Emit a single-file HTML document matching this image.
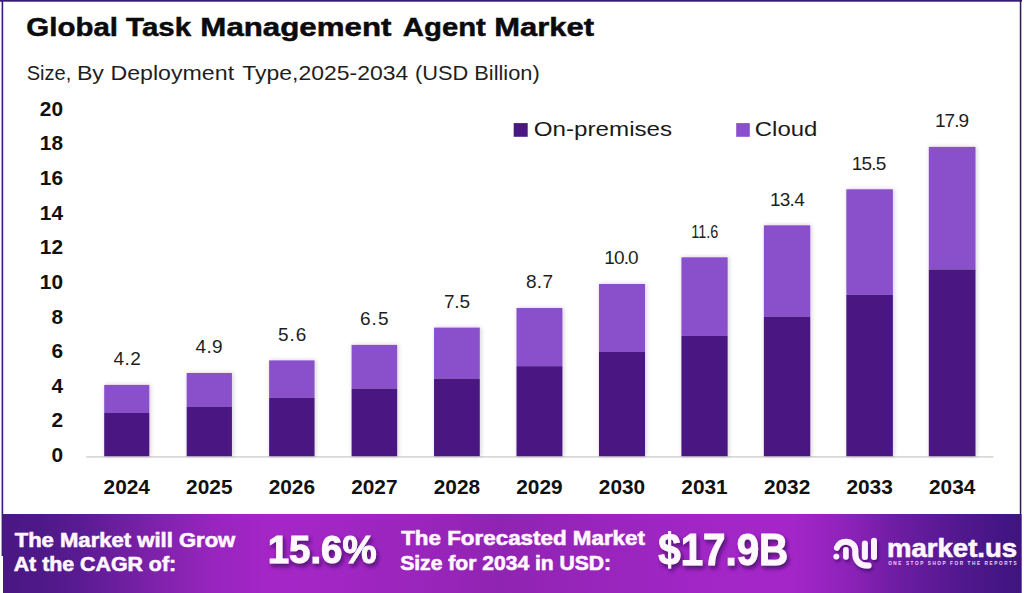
<!DOCTYPE html>
<html><head><meta charset="utf-8">
<style>
html,body{margin:0;padding:0;background:#fff;}
body{width:1024px;height:593px;overflow:hidden;position:relative;}
svg{position:absolute;left:0;top:0;}
</style></head>
<body>
<svg width="1024" height="593" viewBox="0 0 1024 593">
<defs>
<linearGradient id="band" gradientUnits="userSpaceOnUse" x1="3" y1="0" x2="1021" y2="0">
<stop offset="0.0000" stop-color="#4a1784"/>
<stop offset="0.0363" stop-color="#4e1888"/>
<stop offset="0.0756" stop-color="#5a1b92"/>
<stop offset="0.1542" stop-color="#8022ac"/>
<stop offset="0.2132" stop-color="#9a25c0"/>
<stop offset="0.2623" stop-color="#a426c6"/>
<stop offset="0.3212" stop-color="#a226c4"/>
<stop offset="0.4096" stop-color="#9a25bc"/>
<stop offset="0.4882" stop-color="#9024b2"/>
<stop offset="0.5864" stop-color="#9825bc"/>
<stop offset="0.6847" stop-color="#a226c6"/>
<stop offset="0.7731" stop-color="#a526c8"/>
<stop offset="0.8320" stop-color="#8c22b8"/>
<stop offset="0.8811" stop-color="#6c1ca2"/>
<stop offset="0.9401" stop-color="#52188e"/>
<stop offset="1.0000" stop-color="#3e1480"/>
</linearGradient>
<filter id="sh" x="-20%" y="-20%" width="140%" height="160%">
<feDropShadow dx="2" dy="3" stdDeviation="2" flood-color="#3a0860" flood-opacity="0.85"/>
</filter>
<filter id="bsh" x="-20%" y="-5%" width="140%" height="110%">
<feDropShadow dx="1" dy="0" stdDeviation="2" flood-color="#302040" flood-opacity="0.22"/>
</filter>
<filter id="sh2" x="-20%" y="-20%" width="140%" height="160%">
<feDropShadow dx="1.5" dy="2.5" stdDeviation="1.8" flood-color="#2a0650" flood-opacity="0.6"/>
</filter>
</defs>
<rect x="0" y="0" width="1022" height="1.7" fill="#3a1a78"/>
<rect x="1.6" y="0" width="1.6" height="556" fill="#3a1a78"/>
<rect x="1019.8" y="0" width="1.5" height="514" fill="#2a1a50"/>
<rect x="513.7" y="123.1" width="14" height="13.7" fill="#4a1882"/>
<rect x="736.2" y="123.1" width="13.6" height="13.7" fill="#8a4fca"/>
<rect x="86.2" y="456.2" width="907.3" height="1.4" fill="#cfcfcf"/>
<g filter="url(#bsh)"><rect x="104.20" y="384.9" width="45.10" height="28.1" fill="#8a4fca"/>
<rect x="104.20" y="413.0" width="45.10" height="43.2" fill="#4a1882"/>
<rect x="186.66" y="373.0" width="45.26" height="33.6" fill="#8a4fca"/>
<rect x="186.66" y="406.6" width="45.26" height="49.6" fill="#4a1882"/>
<rect x="269.12" y="360.4" width="45.42" height="37.3" fill="#8a4fca"/>
<rect x="269.12" y="397.7" width="45.42" height="58.5" fill="#4a1882"/>
<rect x="351.58" y="344.9" width="45.58" height="43.7" fill="#8a4fca"/>
<rect x="351.58" y="388.6" width="45.58" height="67.6" fill="#4a1882"/>
<rect x="434.04" y="327.6" width="45.74" height="51.0" fill="#8a4fca"/>
<rect x="434.04" y="378.6" width="45.74" height="77.6" fill="#4a1882"/>
<rect x="516.50" y="308.0" width="45.90" height="58.2" fill="#8a4fca"/>
<rect x="516.50" y="366.2" width="45.90" height="90.0" fill="#4a1882"/>
<rect x="598.96" y="284.0" width="46.06" height="68.0" fill="#8a4fca"/>
<rect x="598.96" y="352.0" width="46.06" height="104.2" fill="#4a1882"/>
<rect x="681.42" y="257.3" width="46.22" height="78.6" fill="#8a4fca"/>
<rect x="681.42" y="335.9" width="46.22" height="120.3" fill="#4a1882"/>
<rect x="763.88" y="225.3" width="46.38" height="91.3" fill="#8a4fca"/>
<rect x="763.88" y="316.6" width="46.38" height="139.6" fill="#4a1882"/>
<rect x="846.34" y="189.3" width="46.54" height="105.4" fill="#8a4fca"/>
<rect x="846.34" y="294.7" width="46.54" height="161.5" fill="#4a1882"/>
<rect x="928.80" y="146.9" width="46.70" height="122.6" fill="#8a4fca"/>
<rect x="928.80" y="269.5" width="46.70" height="186.7" fill="#4a1882"/></g>
<rect x="3" y="514" width="1018.7" height="79" fill="url(#band)"/>
<g filter="url(#sh2)" fill="none" stroke="#fdf2ff" stroke-linecap="round">
<path d="M836.9,547.8 C838.3,544 841.6,541.7 846,541.7 C851.4,541.7 855.3,545.6 855.3,550.6 L855.3,554.5 A11,11 0 0 0 866.3,565.5 L868.6,565.5" stroke-width="6"/>
<line x1="845.9" y1="549.9" x2="845.9" y2="557" stroke-width="5.6"/>
<line x1="864.9" y1="543.4" x2="864.9" y2="557" stroke-width="6"/>
<line x1="874" y1="540.7" x2="874" y2="557" stroke-width="6"/>
<circle cx="836.3" cy="556.6" r="2.95" fill="#fdf2ff" stroke="none"/>
</g>
<text id="ta" x="26.38" y="36.30" font-family='"Liberation Sans",sans-serif' font-weight="700" font-size="26.30" fill="#0b0b0b" text-anchor="start" textLength="164.65" lengthAdjust="spacingAndGlyphs" stroke="#0b0b0b" stroke-width="0.5" xml:space="preserve">Global Task</text>
<text id="tb" x="200.37" y="36.30" font-family='"Liberation Sans",sans-serif' font-weight="700" font-size="26.30" fill="#0b0b0b" text-anchor="start" textLength="191.08" lengthAdjust="spacingAndGlyphs" stroke="#0b0b0b" stroke-width="0.5" xml:space="preserve">Management</text>
<text id="tc" x="402.87" y="36.30" font-family='"Liberation Sans",sans-serif' font-weight="700" font-size="26.30" fill="#0b0b0b" text-anchor="start" textLength="82.94" lengthAdjust="spacingAndGlyphs" stroke="#0b0b0b" stroke-width="0.5" xml:space="preserve">Agent</text>
<text id="td" x="494.32" y="36.30" font-family='"Liberation Sans",sans-serif' font-weight="700" font-size="26.30" fill="#0b0b0b" text-anchor="start" textLength="99.74" lengthAdjust="spacingAndGlyphs" stroke="#0b0b0b" stroke-width="0.5" xml:space="preserve">Market</text>
<text id="sa" x="26.76" y="80.30" font-family='"Liberation Sans",sans-serif' font-weight="400" font-size="20.20" fill="#1e1e1e" text-anchor="start" textLength="44.57" lengthAdjust="spacingAndGlyphs" xml:space="preserve">Size,</text>
<text id="sb" x="76.92" y="80.30" font-family='"Liberation Sans",sans-serif' font-weight="400" font-size="20.20" fill="#1e1e1e" text-anchor="start" textLength="157.17" lengthAdjust="spacingAndGlyphs" xml:space="preserve">By Deployment</text>
<text id="sc" x="242.37" y="80.30" font-family='"Liberation Sans",sans-serif' font-weight="400" font-size="20.20" fill="#1e1e1e" text-anchor="start" textLength="165.82" lengthAdjust="spacingAndGlyphs" xml:space="preserve">Type,2025-2034</text>
<text id="sd" x="414.90" y="80.30" font-family='"Liberation Sans",sans-serif' font-weight="400" font-size="20.20" fill="#1e1e1e" text-anchor="start" textLength="124.85" lengthAdjust="spacingAndGlyphs" xml:space="preserve">(USD Billion)</text>
<text id="leg1" x="533.74" y="135.80" font-family='"Liberation Sans",sans-serif' font-weight="400" font-size="21.00" fill="#1a1a1a" text-anchor="start" textLength="138.43" lengthAdjust="spacingAndGlyphs" xml:space="preserve">On-premises</text>
<text id="leg2" x="754.82" y="135.80" font-family='"Liberation Sans",sans-serif' font-weight="400" font-size="21.00" fill="#1a1a1a" text-anchor="start" textLength="62.53" lengthAdjust="spacingAndGlyphs" xml:space="preserve">Cloud</text>
<text id="v2024" x="127.23" y="365.30" font-family='"Liberation Sans",sans-serif' font-weight="400" font-size="19.00" fill="#1e1e1e" text-anchor="middle" textLength="27.36" lengthAdjust="spacing" xml:space="preserve">4.2</text>
<text id="x2024" transform="matrix(1.08,0,0,1,-10.14,0)" x="126.75" y="493.90" font-family='"Liberation Sans",sans-serif' font-weight="700" font-size="19.30" fill="#111" text-anchor="middle" xml:space="preserve">2024</text>
<text id="v2025" x="209.05" y="353.40" font-family='"Liberation Sans",sans-serif' font-weight="400" font-size="19.00" fill="#1e1e1e" text-anchor="middle" textLength="26.94" lengthAdjust="spacing" xml:space="preserve">4.9</text>
<text id="x2025" transform="matrix(1.08,0,0,1,-16.74,0)" x="209.29" y="493.90" font-family='"Liberation Sans",sans-serif' font-weight="700" font-size="19.30" fill="#111" text-anchor="middle" xml:space="preserve">2025</text>
<text id="v2026" x="292.13" y="340.80" font-family='"Liberation Sans",sans-serif' font-weight="400" font-size="19.00" fill="#1e1e1e" text-anchor="middle" textLength="28.49" lengthAdjust="spacing" xml:space="preserve">5.6</text>
<text id="x2026" transform="matrix(1.08,0,0,1,-23.35,0)" x="291.83" y="493.90" font-family='"Liberation Sans",sans-serif' font-weight="700" font-size="19.30" fill="#111" text-anchor="middle" xml:space="preserve">2026</text>
<text id="v2027" x="374.26" y="325.30" font-family='"Liberation Sans",sans-serif' font-weight="400" font-size="19.00" fill="#1e1e1e" text-anchor="middle" textLength="28.43" lengthAdjust="spacing" xml:space="preserve">6.5</text>
<text id="x2027" transform="matrix(1.08,0,0,1,-29.95,0)" x="374.37" y="493.90" font-family='"Liberation Sans",sans-serif' font-weight="700" font-size="19.30" fill="#111" text-anchor="middle" xml:space="preserve">2027</text>
<text id="v2028" x="456.97" y="308.00" font-family='"Liberation Sans",sans-serif' font-weight="400" font-size="19.00" fill="#1e1e1e" text-anchor="middle" textLength="26.16" lengthAdjust="spacing" xml:space="preserve">7.5</text>
<text id="x2028" transform="matrix(1.08,0,0,1,-36.55,0)" x="456.91" y="493.90" font-family='"Liberation Sans",sans-serif' font-weight="700" font-size="19.30" fill="#111" text-anchor="middle" xml:space="preserve">2028</text>
<text id="v2029" x="539.43" y="288.40" font-family='"Liberation Sans",sans-serif' font-weight="400" font-size="19.00" fill="#1e1e1e" text-anchor="middle" textLength="27.07" lengthAdjust="spacing" xml:space="preserve">8.7</text>
<text id="x2029" transform="matrix(1.08,0,0,1,-43.16,0)" x="539.45" y="493.90" font-family='"Liberation Sans",sans-serif' font-weight="700" font-size="19.30" fill="#111" text-anchor="middle" xml:space="preserve">2029</text>
<text id="v2030" x="621.45" y="264.40" font-family='"Liberation Sans",sans-serif' font-weight="400" font-size="19.00" fill="#1e1e1e" text-anchor="middle" textLength="34.22" lengthAdjust="spacing" xml:space="preserve">10.0</text>
<text id="x2030" transform="matrix(1.08,0,0,1,-49.76,0)" x="621.99" y="493.90" font-family='"Liberation Sans",sans-serif' font-weight="700" font-size="19.30" fill="#111" text-anchor="middle" xml:space="preserve">2030</text>
<text id="v2031" x="704.71" y="237.70" font-family='"Liberation Sans",sans-serif' font-weight="400" font-size="19.00" fill="#1e1e1e" text-anchor="middle" textLength="27.08" lengthAdjust="spacingAndGlyphs" xml:space="preserve">11.6</text>
<text id="x2031" transform="matrix(1.08,0,0,1,-56.36,0)" x="704.53" y="493.90" font-family='"Liberation Sans",sans-serif' font-weight="700" font-size="19.30" fill="#111" text-anchor="middle" xml:space="preserve">2031</text>
<text id="v2032" x="787.31" y="205.70" font-family='"Liberation Sans",sans-serif' font-weight="400" font-size="19.00" fill="#1e1e1e" text-anchor="middle" textLength="34.79" lengthAdjust="spacing" xml:space="preserve">13.4</text>
<text id="x2032" transform="matrix(1.08,0,0,1,-62.97,0)" x="787.07" y="493.90" font-family='"Liberation Sans",sans-serif' font-weight="700" font-size="19.30" fill="#111" text-anchor="middle" xml:space="preserve">2032</text>
<text id="v2033" x="869.01" y="169.70" font-family='"Liberation Sans",sans-serif' font-weight="400" font-size="19.00" fill="#1e1e1e" text-anchor="middle" textLength="34.73" lengthAdjust="spacing" xml:space="preserve">15.5</text>
<text id="x2033" transform="matrix(1.08,0,0,1,-69.57,0)" x="869.61" y="493.90" font-family='"Liberation Sans",sans-serif' font-weight="700" font-size="19.30" fill="#111" text-anchor="middle" xml:space="preserve">2033</text>
<text id="v2034" x="952.07" y="127.30" font-family='"Liberation Sans",sans-serif' font-weight="400" font-size="19.00" fill="#1e1e1e" text-anchor="middle" textLength="34.21" lengthAdjust="spacing" xml:space="preserve">17.9</text>
<text id="x2034" transform="matrix(1.08,0,0,1,-76.17,0)" x="952.15" y="493.90" font-family='"Liberation Sans",sans-serif' font-weight="700" font-size="19.30" fill="#111" text-anchor="middle" xml:space="preserve">2034</text>
<text id="y0" transform="matrix(1.07,0,0,1,-4.41,0)" x="63.00" y="462.00" font-family='"Liberation Sans",sans-serif' font-weight="700" font-size="19.50" fill="#111" text-anchor="end" xml:space="preserve">0</text>
<text id="y2" transform="matrix(1.07,0,0,1,-4.41,0)" x="63.00" y="427.38" font-family='"Liberation Sans",sans-serif' font-weight="700" font-size="19.50" fill="#111" text-anchor="end" xml:space="preserve">2</text>
<text id="y4" transform="matrix(1.07,0,0,1,-4.41,0)" x="63.00" y="392.76" font-family='"Liberation Sans",sans-serif' font-weight="700" font-size="19.50" fill="#111" text-anchor="end" xml:space="preserve">4</text>
<text id="y6" transform="matrix(1.07,0,0,1,-4.41,0)" x="63.00" y="358.14" font-family='"Liberation Sans",sans-serif' font-weight="700" font-size="19.50" fill="#111" text-anchor="end" xml:space="preserve">6</text>
<text id="y8" transform="matrix(1.07,0,0,1,-4.41,0)" x="63.00" y="323.52" font-family='"Liberation Sans",sans-serif' font-weight="700" font-size="19.50" fill="#111" text-anchor="end" xml:space="preserve">8</text>
<text id="y10" transform="matrix(1.07,0,0,1,-4.41,0)" x="63.00" y="288.90" font-family='"Liberation Sans",sans-serif' font-weight="700" font-size="19.50" fill="#111" text-anchor="end" xml:space="preserve">10</text>
<text id="y12" transform="matrix(1.07,0,0,1,-4.41,0)" x="63.00" y="254.28" font-family='"Liberation Sans",sans-serif' font-weight="700" font-size="19.50" fill="#111" text-anchor="end" xml:space="preserve">12</text>
<text id="y14" transform="matrix(1.07,0,0,1,-4.41,0)" x="63.00" y="219.66" font-family='"Liberation Sans",sans-serif' font-weight="700" font-size="19.50" fill="#111" text-anchor="end" xml:space="preserve">14</text>
<text id="y16" transform="matrix(1.07,0,0,1,-4.41,0)" x="63.00" y="185.04" font-family='"Liberation Sans",sans-serif' font-weight="700" font-size="19.50" fill="#111" text-anchor="end" xml:space="preserve">16</text>
<text id="y18" transform="matrix(1.07,0,0,1,-4.41,0)" x="63.00" y="150.42" font-family='"Liberation Sans",sans-serif' font-weight="700" font-size="19.50" fill="#111" text-anchor="end" xml:space="preserve">18</text>
<text id="y20" transform="matrix(1.07,0,0,1,-4.41,0)" x="63.00" y="115.80" font-family='"Liberation Sans",sans-serif' font-weight="700" font-size="19.50" fill="#111" text-anchor="end" xml:space="preserve">20</text>
<text id="b1" x="14.66" y="546.70" font-family='"Liberation Sans",sans-serif' font-weight="700" font-size="20.30" fill="#fff6ff" text-anchor="start" textLength="220.62" lengthAdjust="spacingAndGlyphs" stroke="#fff6ff" stroke-width="0.6" xml:space="preserve">The Market will Grow</text>
<text id="b2" x="13.68" y="571.30" font-family='"Liberation Sans",sans-serif' font-weight="700" font-size="20.30" fill="#fff6ff" text-anchor="start" textLength="162.46" lengthAdjust="spacingAndGlyphs" stroke="#fff6ff" stroke-width="0.6" xml:space="preserve">At the CAGR of:</text>
<text id="big1" x="267.78" y="563.10" font-family='"Liberation Sans",sans-serif' font-weight="700" font-size="38.20" fill="#fff8ff" text-anchor="start" textLength="108.82" lengthAdjust="spacingAndGlyphs" filter="url(#sh)" stroke="#fff8ff" stroke-width="1" xml:space="preserve">15.6%</text>
<text id="b3" x="401.20" y="544.80" font-family='"Liberation Sans",sans-serif' font-weight="700" font-size="20.30" fill="#fff6ff" text-anchor="start" textLength="243.77" lengthAdjust="spacingAndGlyphs" stroke="#fff6ff" stroke-width="0.6" xml:space="preserve">The Forecasted Market</text>
<text id="b4" x="400.20" y="570.20" font-family='"Liberation Sans",sans-serif' font-weight="700" font-size="20.30" fill="#fff6ff" text-anchor="start" textLength="210.94" lengthAdjust="spacingAndGlyphs" stroke="#fff6ff" stroke-width="0.6" xml:space="preserve">Size for 2034 in USD:</text>
<text id="big2" x="658.23" y="564.50" font-family='"Liberation Sans",sans-serif' font-weight="700" font-size="43.80" fill="#fff8ff" text-anchor="start" textLength="129.99" lengthAdjust="spacingAndGlyphs" filter="url(#sh)" stroke="#fff8ff" stroke-width="1" xml:space="preserve">$17.9B</text>
<text id="mk" x="886.95" y="556.60" font-family='"Liberation Sans",sans-serif' font-weight="700" font-size="25.00" fill="#fff6ff" text-anchor="start" textLength="130.22" lengthAdjust="spacingAndGlyphs" stroke="#fff6ff" stroke-width="0.6" xml:space="preserve">market.us</text>
<text id="tag" x="888.14" y="564.60" font-family='"Liberation Sans",sans-serif' font-weight="700" font-size="4.70" fill="#f0d8f8" text-anchor="start" textLength="128.53" lengthAdjust="spacing" xml:space="preserve">ONE STOP SHOP FOR THE REPORTS</text>
</svg>
</body></html>
